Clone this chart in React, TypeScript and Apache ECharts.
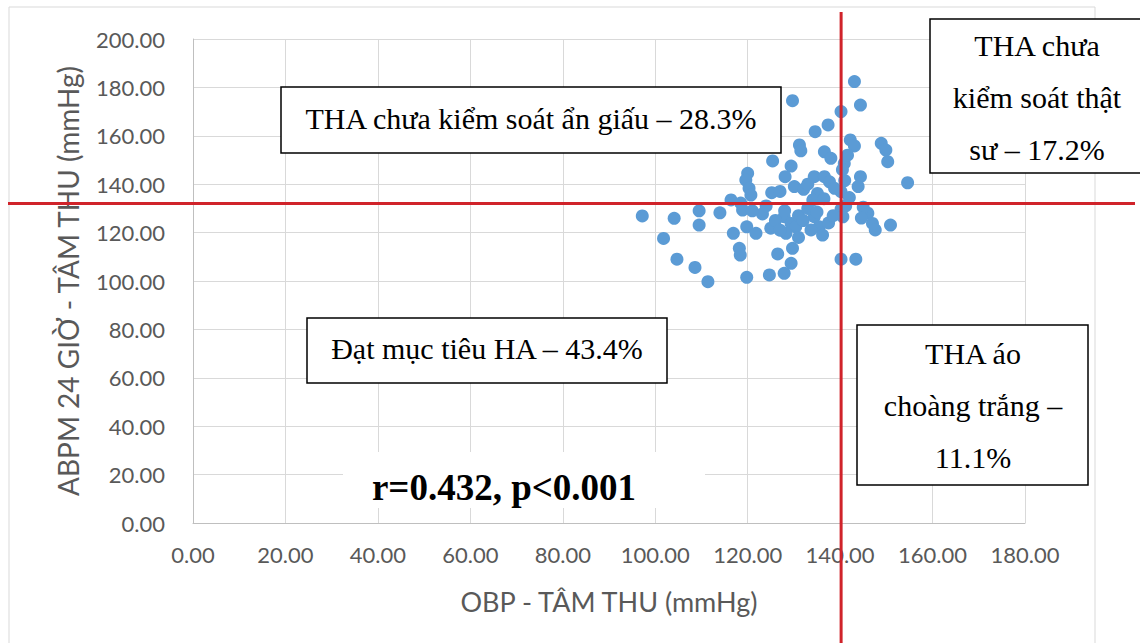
import React, { useEffect, useRef } from "react";
import * as echarts from "echarts";

// OBP systolic (x) and ABPM 24h systolic (y), mmHg
const obp = [
  143.1, 144.4, 140.2, 142.2, 143.1, 148.9, 149.9, 150.3, 140.9, 144.4, 143.9, 154.6, 140.2, 141.0, 140.5, 142.0, 141.6,
  140.2, 140.2, 143.4, 146.0, 147.0, 147.6, 150.9, 140.6, 141.2, 145.0, 144.6,
  129.7, 137.4, 134.6, 131.2, 131.5, 136.6, 138.0, 125.4, 129.4, 128.1, 120.0, 119.6, 120.3, 120.7, 125.2, 130.1, 132.1,
  134.4, 136.6, 137.7, 138.8, 135.1, 134.1, 116.4, 118.5, 133.0, 127.0, 136.5,
  97.2, 104.1, 109.5, 109.5, 114.0, 118.9, 123.2, 116.9, 119.8, 121.8, 125.0, 127.9, 129.4, 130.4, 128.3, 118.2, 118.4,
  101.8, 104.7, 108.6, 111.4, 119.8, 124.7, 126.5, 129.7, 127.9, 129.4, 134.4, 135.5, 136.2, 133.7, 121.0, 124.0, 126.0,
  128.0, 131.0, 132.0, 133.0, 135.0, 137.5, 138.5, 127.0, 131.0,
];
const abpm = [
  182.4, 172.7, 170.0, 158.3, 155.8, 156.9, 154.1, 149.3, 148.6, 143.1, 139.0, 140.6, 136.9, 141.5, 146.0, 134.5, 152.0,
  129.6, 109.0, 109.0, 128.0, 123.8, 121.1, 123.1, 126.5, 131.0, 130.5, 126.0,
  174.5, 164.5, 161.7, 156.2, 153.8, 153.4, 150.7, 149.6, 147.5, 143.1, 144.5, 141.7, 138.3, 135.5, 136.5, 139.0, 137.9,
  143.1, 143.1, 141.0, 138.3, 136.2, 133.5, 133.5, 132.2, 140.0, 137.0, 134.0,
  126.9, 125.9, 129.0, 123.1, 128.2, 129.3, 127.7, 119.7, 122.4, 119.7, 121.8, 126.6, 123.8, 122.4, 119.7, 113.5, 110.7,
  117.6, 109.0, 105.6, 99.7, 101.5, 102.5, 111.2, 113.5, 103.2, 107.3, 126.6, 122.4, 119.0, 121.1, 129.0, 131.0, 125.0,
  129.0, 127.0, 125.0, 130.0, 128.5, 124.0, 127.0, 121.0, 118.0,
];

const cutX = 140;
const cutY = 132;

const xName = "OBP - TÂM THU (mmHg)";
const yName = "ABPM 24 GIỜ - TÂM THU (mmHg)";
const boxTopLeft = ["THA chưa kiểm soát ẩn giấu – 28.3%"];
const boxTopRight = ["THA chưa", "kiểm soát thật", "sư – 17.2%"];
const boxBottomLeft = ["Đạt mục tiêu HA – 43.4%"];
const boxBottomRight = ["THA áo", "choàng trắng –", "11.1%"];
const statText = "r=0.432, p<0.001";

const serif = '"Liberation Serif", "Times New Roman", serif';
const labelFont = "Lato";

function boxEls(x: number, y: number, w: number, h: number, lines: string[], cx: number, firstY: number, step: number) {
  const els: any[] = [
    {
      type: "rect",
      shape: { x, y, width: w, height: h },
      style: { fill: "#fff", stroke: "#000", lineWidth: 1.5 },
      z: 10,
    },
  ];
  lines.forEach((t, i) => {
    els.push({
      type: "text",
      x: cx,
      y: firstY + i * step,
      style: {
        text: t,
        fill: "#000",
        font: `30px ${serif}`,
        align: "center",
        verticalAlign: "middle",
      },
      z: 11,
    });
  });
  return els;
}

export default function App() {
  const ref = useRef<HTMLDivElement>(null);
  useEffect(() => {
    if (!ref.current) return;
    const chart = echarts.init(ref.current, undefined, { renderer: "svg" });
    const data = obp.map((v, i) => [v, abpm[i]]);
    chart.setOption({
      animation: false,
      backgroundColor: "#fff",
      grid: { left: 193, right: 115, top: 39, bottom: 120, containLabel: false },
      xAxis: {
        type: "value",
        min: 0,
        max: 180,
        interval: 20,
        name: xName,
        nameLocation: "middle",
        nameGap: 65,
        nameTextStyle: { fontFamily: labelFont, fontSize: 27, color: "#595959" },
        axisLine: { show: true, lineStyle: { color: "#bfbfbf", width: 1 } },
        axisTick: { show: false },
        axisLabel: {
          formatter: (v: number) => v.toFixed(2),
          fontFamily: labelFont,
          fontSize: 22,
          color: "#595959",
          margin: 20,
        },
        splitLine: { show: true, lineStyle: { color: "#d9d9d9", width: 1 } },
      },
      yAxis: {
        type: "value",
        min: 0,
        max: 200,
        interval: 20,
        name: yName,
        nameLocation: "middle",
        nameGap: 111,
        nameTextStyle: { fontFamily: labelFont, fontSize: 28, color: "#595959" },
        axisLine: { show: true, lineStyle: { color: "#bfbfbf", width: 1 } },
        axisTick: { show: false },
        axisLabel: {
          formatter: (v: number) => v.toFixed(2),
          fontFamily: labelFont,
          fontSize: 22,
          color: "#595959",
          margin: 28,
        },
        splitLine: { show: true, lineStyle: { color: "#d9d9d9", width: 1 } },
      },
      series: [
        {
          type: "scatter",
          data,
          symbol: "circle",
          symbolSize: 13,
          itemStyle: { color: "#5b9bd5", opacity: 1 },
        },
      ],
    });

    const [px, py] = chart.convertToPixel({ xAxisIndex: 0, yAxisIndex: 0 }, [cutX, cutY]) as number[];

    const graphic: any[] = [
      {
        type: "rect",
        shape: { x: 9, y: 7, width: 1086, height: 700 },
        style: { fill: "none", stroke: "#d9d9d9", lineWidth: 1 },
        z: 1,
        silent: true,
      },
      {
        type: "line",
        shape: { x1: px + 1, y1: 12, x2: px + 1, y2: 643 },
        style: { stroke: "#d0232a", lineWidth: 3 },
        z: 9,
      },
      {
        type: "line",
        shape: { x1: 8, y1: py, x2: 1135, y2: py },
        style: { stroke: "#d0232a", lineWidth: 3 },
        z: 9,
      },
      ...boxEls(281, 87, 500, 66, boxTopLeft, 531, 118, 0),
      ...boxEls(930, 19, 220, 154, boxTopRight, 1037, 45, 52),
      ...boxEls(307, 318, 360, 65, boxBottomLeft, 487, 348, 0),
      ...boxEls(857, 325, 231, 160, boxBottomRight, 973, 353, 52),
      {
        type: "rect",
        shape: { x: 343, y: 452, width: 362, height: 56 },
        style: { fill: "#fff" },
        z: 10,
      },
      {
        type: "text",
        x: 504,
        y: 487,
        style: {
          text: statText,
          fill: "#000",
          font: `bold 37px ${serif}`,
          align: "center",
          verticalAlign: "middle",
        },
        z: 11,
      },
    ];
    chart.setOption({ graphic });

    return () => chart.dispose();
  }, []);
  return (
    <div
      ref={ref}
      style={{ position: "fixed", left: 0, top: 0, width: 1140, height: 643 }}
    />
  );
}
